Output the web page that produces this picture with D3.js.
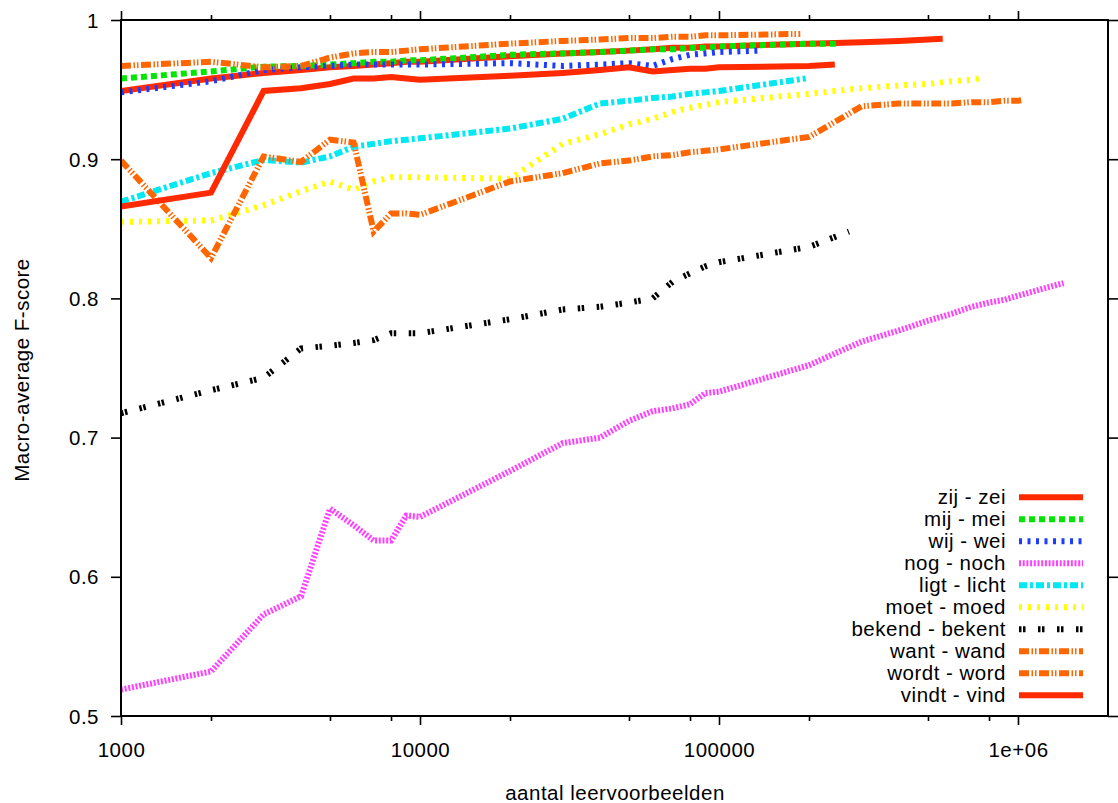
<!DOCTYPE html>
<html><head><meta charset="utf-8">
<script src="https://cdn.jsdelivr.net/npm/d3@7"></script>
<style>
body{margin:0;background:#fff}
svg text{font-family:"Liberation Sans",Arial,sans-serif;font-size:20.5px;letter-spacing:0.5px;fill:#000}
</style></head><body>
<svg id="chart" width="1118" height="803"></svg>
<script>
// ---- data ----
const sizeGrid = [1000,2000,3000,4000,5000,6000,7000,8000,9000,10000,
  20000,30000,40000,50000,60000,70000,80000,90000,
  100000,200000,300000,400000,500000,600000,700000,800000,900000,1000000];
const seriesNames = ["zij - zei","mij - mei","wij - wei","nog - noch","ligt - licht",
  "moet - moed","bekend - bekent","want - wand","wordt - word","vindt - vind"];
const lastSizes = [560000,250000,139000,1420000,195000,740000,272000,187000,1040000,244000];
const zijZei = [.949,.958,.962,.964,.966,.967,.968,.969,.970,.970,
  .974,.976,.977,.978,.979,.980,.980,.981, .981,.983,.984,.985,.986, .9865];
const mijMei = [.958,.963,.9665,.967,.968,.969,.970,.970,.971,.971,
  .975,.976,.977,.978,.979,.979,.980,.980, .981,.983, .983];
const wijWei = [.948,.956,.964,.966,.967,.968,.968,.968,.968,.968,
  .969,.967,.968,.969,.967,.972,.975,.976, .977, .978];
const nogNoch = [.519,.532,.573,.586,.649,.637,.626,.626,.644,.643,
  .676,.696,.700,.712,.719,.721,.724,.732, .733,.752,.769,.777,.784,.789,.794,.797,.799,.802, .811];
const ligtLicht = [.8695,.890,.8995,.8975,.902,.909,.911,.913,.914,.915,
  .922,.929,.940,.942,.944,.945,.947,.948, .949, .958];
const moetMoed = [.855,.856,.867,.877,.884,.878,.884,.887,.887,.887,
  .886,.911,.918,.925,.929,.934,.937,.939, .941,.947,.951,.953,.954,.956,.957, .958];
const bekendBekent = [.7175,.734,.743,.764,.766,.768,.770,.775,.775,.775,
  .785,.792,.794,.797,.800,.812,.818,.823, .826,.837, .848];
const wantWand = [.967,.970,.966,.967,.973,.976,.977,.977,.978,.979,
  .983,.985,.986,.987,.987,.988,.988,.989, .989, .990];
const wordtWord = [.899,.829,.902,.898,.914,.912,.848,.861,.861,.860,
  .884,.890,.897,.899,.902,.903,.905,.906, .907,.916,.938,.940,.940,.940,.941,.941,.942,.942, .9425];
const vindtVind = [.866,.876,.949,.951,.954,.958,.958,.959,.958,.957,
  .960,.962,.964,.966,.963,.964,.965,.965, .966,.967, .968];
const seriesValues = [zijZei,mijMei,wijWei,nogNoch,ligtLicht,moetMoed,bekendBekent,wantWand,wordtWord,vindtVind];

const xTickValues = [1000,10000,100000,1000000];
const xTickLabels = ["1000","10000","100000","1e+06"];
const xMinorTickValues = [2000,5000,8000,20000,50000,80000,200000,500000,800000];
const yTickValues = [0.5,0.6,0.7,0.8,0.9,1];
const yTickLabels = ["0.5","0.6","0.7","0.8","0.9","1"];
const xTitle = "aantal leervoorbeelden";
const yTitle = "Macro-average F-score";

// ---- styles ----
const seriesColors = ["#ff2a00","#00e600","#1e3cff","#ff40ff","#00e8f2","#ffff00","#000000","#ff6600","#ff6600","#ff2a00"];
const seriesDashes = [null,"6,4","3,5.5","2,1.7","8,3,3,3","3,6","2.5,1.5,2.5,12.5",
  "10,2.5,1.5,2,1.5,2.5","10,2.5,1.5,2,1.5,2.5",null];

// ---- drawing ----
const svg = d3.select("#chart");
const L = 121, R = 1108, T = 20, B = 716;
const x = d3.scaleLog().domain([1000, 2000000]).range([L, R]);
const y = d3.scaleLinear().domain([0.5, 1]).range([B, T]);

svg.append("clipPath").attr("id","clip").append("rect")
  .attr("x",L).attr("y",T).attr("width",R-L).attr("height",B-T);

const series = seriesValues.map((vals,i) => {
  const xs = sizeGrid.slice(0, vals.length-1).concat([lastSizes[i]]);
  return vals.map((v,j) => ({x: xs[j], y: v}));
});

const line = d3.line().x(d => x(d.x)).y(d => y(d.y));
const plot = svg.append("g").attr("clip-path","url(#clip)");
series.forEach((pts,i) => {
  plot.append("path").datum(pts)
    .attr("d", line)
    .attr("fill","none")
    .attr("stroke", seriesColors[i])
    .attr("stroke-width", 6)
    .attr("stroke-linejoin","miter")
    .attr("stroke-dasharray", seriesDashes[i]);
});

// axes
function styleAxis(g){
  g.select(".domain").remove();
  g.attr("font-size",null).attr("font-family",null);
  g.selectAll(".tick line").attr("stroke","#000").attr("stroke-width",1.6);
}
const gx = svg.append("g").attr("transform",`translate(0,${B})`)
  .call(d3.axisBottom(x).tickValues(xTickValues).tickSize(9).tickFormat((d,i)=>xTickLabels[i]));
styleAxis(gx);
gx.selectAll("text").attr("y",41).attr("dy",null);
svg.append("g").attr("transform",`translate(0,${B})`)
  .call(d3.axisBottom(x).tickValues(xMinorTickValues).tickSize(5).tickFormat(""))
  .call(styleAxis);
svg.append("g").attr("transform",`translate(0,${T})`)
  .call(d3.axisTop(x).tickValues(xTickValues).tickSize(9).tickFormat(""))
  .call(styleAxis);
svg.append("g").attr("transform",`translate(0,${T})`)
  .call(d3.axisTop(x).tickValues(xMinorTickValues).tickSize(5).tickFormat(""))
  .call(styleAxis);
const gy = svg.append("g").attr("transform",`translate(${L},0)`)
  .call(d3.axisLeft(y).tickValues(yTickValues).tickSize(10).tickFormat((d,i)=>yTickLabels[i]));
styleAxis(gy);
gy.selectAll("text").attr("x",-22).attr("dy","0.35em");
svg.append("g").attr("transform",`translate(${R},0)`)
  .call(d3.axisRight(y).tickValues(yTickValues).tickSize(10).tickFormat(""))
  .call(styleAxis);

// frame
svg.append("rect").attr("x",L).attr("y",T).attr("width",R-L).attr("height",B-T)
  .attr("fill","none").attr("stroke","#000").attr("stroke-width",2);

// titles
svg.append("text").attr("x",615).attr("y",800).attr("text-anchor","middle").text(xTitle);
svg.append("text").attr("transform","translate(28.5,370) rotate(-90)").attr("text-anchor","middle").text(yTitle);

// legend
const lg = svg.append("g");
seriesNames.forEach((name,i) => {
  const cy = 497.3 + 22*i;
  lg.append("text").attr("x",1006).attr("y",cy+7).attr("text-anchor","end").text(name);
  lg.append("line").attr("x1",1019).attr("x2",1083).attr("y1",cy).attr("y2",cy)
    .attr("stroke",seriesColors[i]).attr("stroke-width",6)
    .attr("stroke-dasharray",seriesDashes[i]);
});
</script>
</body></html>
